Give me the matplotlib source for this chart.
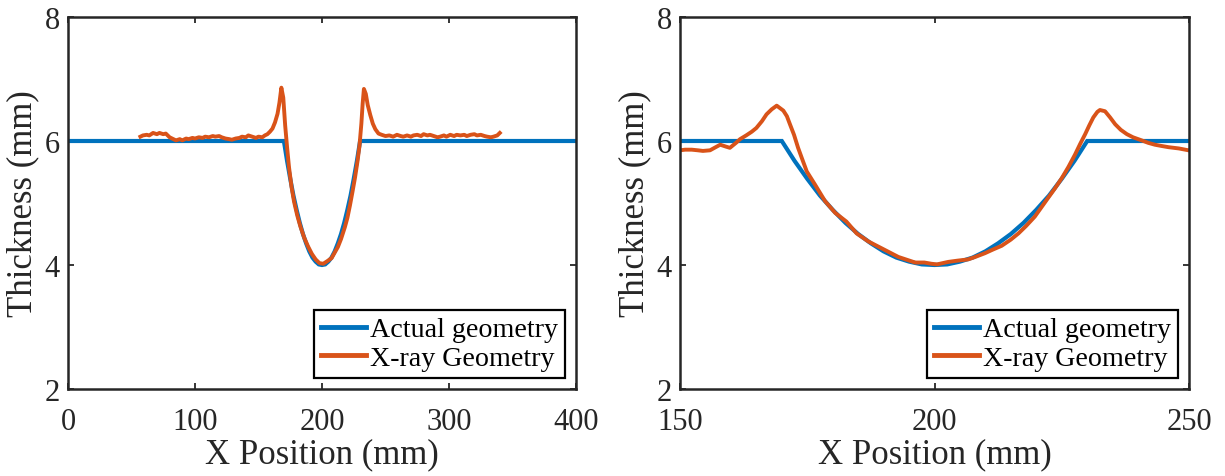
import matplotlib
matplotlib.use('Agg')
from matplotlib import pyplot as plt

# actual (designed) profile: flat 6 mm plate with a circular groove centred at 200 mm
x_actual = [0, 170, 172.5, 175, 177.5, 180, 182.5, 185, 187.5, 190, 192.5, 195, 197.5, 200,
            202.5, 205, 207.5, 210, 212.5, 215, 217.5, 220, 222.5, 225, 227.5, 230, 400]
t_actual = [6.0, 6.0, 5.68, 5.39, 5.12, 4.89, 4.68, 4.50, 4.35, 4.22, 4.12, 4.055, 4.01, 4.0,
            4.01, 4.055, 4.12, 4.22, 4.35, 4.50, 4.68, 4.89, 5.12, 5.39, 5.68, 6.0, 6.0]

# x-ray reconstructed thickness, full scan
x_xray_full = [57, 59, 62, 64, 67, 70, 72, 75, 77, 80, 82, 85, 88, 90, 93, 95, 98, 100, 103, 106,
               108, 111, 114, 116, 119, 121, 124, 127, 129, 132, 135, 137, 140, 142, 145, 148, 150,
               153, 155, 157, 159, 161, 163, 165, 166.5, 168, 169.5, 171, 172.5, 174, 176, 178,
               180.5, 183, 186, 189, 192, 195, 198, 201, 204, 207.5, 210, 212.5, 215, 218, 220,
               222, 224, 226, 228, 229.5, 231, 232, 233, 234.5, 236, 238, 240, 242, 244.5, 247,
               250, 253, 256, 259, 262, 264, 267, 270, 272, 275, 278, 280, 283, 285, 288, 291,
               293, 296, 298, 301, 304, 306, 309, 312, 314, 317, 320, 322, 325, 328, 330, 333,
               335, 338, 340]
t_xray_full = [6.07, 6.09, 6.10, 6.09, 6.13, 6.11, 6.13, 6.11, 6.12, 6.06, 6.04, 6.01, 6.03, 6.01,
               6.04, 6.03, 6.05, 6.04, 6.06, 6.05, 6.07, 6.06, 6.08, 6.07, 6.08, 6.06, 6.04, 6.03,
               6.02, 6.04, 6.05, 6.07, 6.06, 6.09, 6.07, 6.05, 6.07, 6.06, 6.09, 6.11, 6.15, 6.20,
               6.30, 6.44, 6.62, 6.86, 6.70, 6.25, 5.90, 5.58, 5.26, 5.02, 4.80, 4.62, 4.44, 4.30,
               4.18, 4.09, 4.03, 4.02, 4.06, 4.11, 4.20, 4.29, 4.42, 4.61, 4.76, 4.96, 5.18, 5.41,
               5.68, 5.92, 6.28, 6.60, 6.84, 6.76, 6.58, 6.42, 6.28, 6.19, 6.12, 6.10, 6.08, 6.09,
               6.07, 6.10, 6.08, 6.07, 6.09, 6.07, 6.09, 6.10, 6.08, 6.11, 6.09, 6.10, 6.08, 6.06,
               6.07, 6.09, 6.07, 6.10, 6.08, 6.10, 6.09, 6.10, 6.08, 6.10, 6.11, 6.09, 6.10, 6.08,
               6.07, 6.06, 6.07, 6.09, 6.13]

# x-ray reconstructed thickness, fine scan over the groove
x_xray_zoom = [150, 151, 152.3, 153.5, 154.5, 155.9, 157, 157.9, 159, 159.8, 161, 161.8, 163,
               164.1, 165, 166.1, 167, 168, 169, 170.3, 171, 171.6, 172.4, 173.2, 174, 174.9,
               176.5, 178.5, 180.5, 182.7, 184.7, 187, 189.6, 192.9, 196.2, 198, 199.4, 200.5,
               202.7, 204.5, 206.6, 208, 209.9, 211.5, 213.2, 215, 216.5, 218, 219.7, 221, 222.3,
               223.7, 225, 226.3, 227.6, 228.6, 229.6, 230.4, 231.2, 232, 232.5, 233.5, 234.5,
               235.5, 236.6, 237.8, 239, 240.7, 242, 243.3, 244.6, 246, 248, 249.9]
t_xray_zoom = [5.85, 5.86, 5.86, 5.85, 5.84, 5.85, 5.90, 5.94, 5.91, 5.89, 5.97, 6.03, 6.09,
               6.15, 6.21, 6.32, 6.43, 6.51, 6.57, 6.49, 6.40, 6.27, 6.10, 5.89, 5.71, 5.51,
               5.30, 5.03, 4.84, 4.70, 4.51, 4.38, 4.27, 4.13, 4.04, 4.04, 4.02, 4.01,
               4.05, 4.07, 4.09, 4.13, 4.19, 4.25, 4.31, 4.41, 4.51, 4.63, 4.78, 4.93, 5.08,
               5.24, 5.40, 5.58, 5.78, 5.95, 6.11, 6.25, 6.38, 6.47, 6.50, 6.48, 6.38,
               6.27, 6.18, 6.11, 6.06, 6.01, 5.97, 5.94, 5.92, 5.90, 5.88, 5.85]

labels = ['Actual geometry', 'X-ray Geometry']
xticks_full = [0, 100, 200, 300, 400]
xticks_zoom = [150, 200, 250]
yticks = [2, 4, 6, 8]

BLUE = '#0072BD'
ORANGE = '#D95319'
DARK = '#262626'

plt.rcParams['font.family'] = ['Liberation Serif', 'DejaVu Serif']

W, H = 1225, 477
fig = plt.figure(figsize=(W / 100, H / 100), dpi=100)
ax1 = fig.add_axes([68 / W, 1 - 390 / H, (576 - 68) / W, (390 - 18) / H])
ax2 = fig.add_axes([680 / W, 1 - 390 / H, (1189 - 680) / W, (390 - 18) / H])


def style(ax, xs, ts, xlim, xticks):
    ax.plot(x_actual, t_actual, color=BLUE, lw=3.0, label=labels[0], solid_joinstyle='miter')
    ax.plot(xs, ts, color=ORANGE, lw=2.8, label=labels[1])
    ax.set_xlim(*xlim)
    ax.set_ylim(2, 8)
    ax.set_xticks(xticks)
    ax.set_yticks(yticks)
    ax.tick_params(direction='in', top=True, right=True, length=4.5, width=1.3,
                   labelsize=22, colors=DARK, pad=6)
    ax.tick_params(axis='x', pad=13)
    for sp in ax.spines.values():
        sp.set_linewidth(1.8)
        sp.set_color(DARK)
    ax.set_xlabel('X Position (mm)', fontsize=25, color=DARK, labelpad=1)
    ax.set_ylabel('Thickness (mm)', fontsize=25, color=DARK, labelpad=4)
    leg = ax.legend(loc='lower right', fontsize=20.2, fancybox=False, framealpha=1,
                    edgecolor='black', borderpad=0.25, labelspacing=0.1,
                    handlelength=1.6, handletextpad=0.15, borderaxespad=0.4)
    leg.get_frame().set_linewidth(1.6)
    for line in leg.get_lines():
        line.set_linewidth(3.5)


style(ax1, x_xray_full, t_xray_full, (0, 400), xticks_full)
style(ax2, x_xray_zoom, t_xray_zoom, (150, 250), xticks_zoom)

fig.savefig('out.png', dpi=100)
